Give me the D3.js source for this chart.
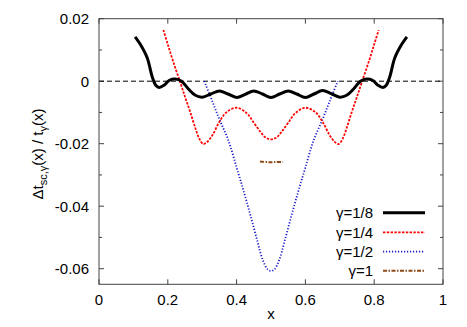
<!DOCTYPE html>
<html>
<head>
<meta charset="utf-8">
<script src="https://d3js.org/d3.v7.min.js"></script>
<style>
  body { margin: 0; background: #fff; }
  text { font-family: "Liberation Sans", Arial, sans-serif; }
</style>
</head>
<body>
<svg width="467" height="327"></svg>
<script>
// data
var xTicks = [0, 0.2, 0.4, 0.6, 0.8, 1];
var yTicks = [-0.06, -0.04, -0.02, 0, 0.02];
var yMinor = [-0.05, -0.03, -0.01, 0.01];

var g8x = [0.105,0.12,0.14,0.155,0.165,0.175,0.19,0.205,0.222,0.24,0.26,0.28,0.30,0.325,0.35,0.375,0.40,0.425,0.45,0.475,0.50,
           0.525,0.55,0.575,0.60,0.625,0.65,0.675,0.70,0.72,0.74,0.76,0.778,0.795,0.81,0.825,0.835,0.845,0.86,0.88,0.895];
var g8y = [0.0142,0.0118,0.0075,0.0013,-0.0013,-0.0020,-0.0012,0.0003,0.0007,0.0000,-0.0025,-0.0045,-0.0051,-0.0041,-0.0031,-0.0041,-0.0052,-0.0042,-0.0031,-0.0041,-0.0052,
           -0.0041,-0.0031,-0.0041,-0.0052,-0.0041,-0.0030,-0.0040,-0.0051,-0.0045,-0.0025,0.0000,0.0007,0.0003,-0.0012,-0.0020,-0.0013,0.0013,0.0075,0.0118,0.0142];

var g4x = [0.187,0.20,0.215,0.235,0.25,0.265,0.28,0.292,0.303,0.315,0.33,0.35,0.37,0.40,0.43,0.45,0.47,0.485,0.50,
           0.515,0.53,0.55,0.57,0.60,0.63,0.65,0.67,0.685,0.697,0.708,0.72,0.735,0.75,0.765,0.785,0.80,0.813];
var g4y = [0.0164,0.0118,0.0065,0.0000,-0.0050,-0.0098,-0.0150,-0.0185,-0.0201,-0.0194,-0.0172,-0.0130,-0.0100,-0.0085,-0.0103,-0.0133,-0.0163,-0.0181,-0.0186,
           -0.0181,-0.0163,-0.0133,-0.0103,-0.0085,-0.0100,-0.0130,-0.0172,-0.0194,-0.0201,-0.0185,-0.0150,-0.0098,-0.0050,0.0000,0.0065,0.0118,0.0164];

var g2x = [0.306,0.33,0.35,0.376,0.40,0.42,0.44,0.46,0.476,0.49,0.50,0.51,0.524,0.54,0.56,0.58,0.60,0.624,0.65,0.67,0.694];
var g2y = [0.000,-0.0066,-0.0122,-0.0189,-0.0276,-0.0350,-0.0428,-0.0510,-0.0572,-0.0602,-0.0607,
           -0.0602,-0.0572,-0.0510,-0.0428,-0.0350,-0.0276,-0.0189,-0.0122,-0.0066,0.000];

var g1x = [0.468,0.49,0.51,0.535];
var g1y = [-0.0257,-0.0259,-0.0259,-0.0258];

var labels = ["γ=1/8", "γ=1/4", "γ=1/2", "γ=1"];

var svg = d3.select("svg");
var x = d3.scaleLinear().domain([0, 1]).range([99, 443]);
var y = d3.scaleLinear().domain([-0.065, 0.02]).range([284.3, 18.7]);
var fmt = function(d){ return d3.format("")(d).replace("\u2212", "-"); };

// ticks (inward, mirrored)
var tk = svg.append("g").attr("stroke", "#444").attr("stroke-width", 1);
xTicks.forEach(function(v){
  tk.append("line").attr("x1", x(v)).attr("x2", x(v)).attr("y1", y.range()[0]).attr("y2", y.range()[0] - 5);
  tk.append("line").attr("x1", x(v)).attr("x2", x(v)).attr("y1", y.range()[1]).attr("y2", y.range()[1] + 5);
});
yTicks.forEach(function(v){
  tk.append("line").attr("x1", 99).attr("x2", 104).attr("y1", y(v)).attr("y2", y(v));
  tk.append("line").attr("x1", 443).attr("x2", 438).attr("y1", y(v)).attr("y2", y(v));
});
yMinor.forEach(function(v){
  tk.append("line").attr("x1", 99).attr("x2", 102).attr("y1", y(v)).attr("y2", y(v));
  tk.append("line").attr("x1", 443).attr("x2", 440).attr("y1", y(v)).attr("y2", y(v));
});

// tick labels
svg.append("g").selectAll("text").data(xTicks).enter().append("text")
  .attr("x", function(d){ return x(d); }).attr("y", 305)
  .attr("text-anchor", "middle").style("font-size", "15px").text(fmt);
svg.append("g").selectAll("text").data(yTicks).enter().append("text")
  .attr("x", 89).attr("y", function(d){ return y(d) + 5.5; })
  .attr("text-anchor", "end").style("font-size", "15px").text(fmt);

// axis titles
svg.append("text").attr("x", 271).attr("y", 319).attr("text-anchor", "middle")
  .style("font-size", "15px").text("x");
var yl = svg.append("text").attr("transform", "translate(43,154) rotate(-90)")
  .attr("text-anchor", "middle").style("font-size", "15px");
yl.append("tspan").text("Δt");
yl.append("tspan").attr("dy", 4).style("font-size", "11px").text("sc,γ");
yl.append("tspan").attr("dy", -4).text("(x)  /  t");
yl.append("tspan").attr("dy", 4).style("font-size", "11px").text("γ");
yl.append("tspan").attr("dy", -4).text("(x)");

// zero line
svg.append("line").attr("x1", x(0)).attr("x2", x(1)).attr("y1", y(0)).attr("y2", y(0))
  .attr("stroke", "#000").attr("stroke-width", 1).attr("stroke-dasharray", "5,3");

var styles = [
  {c: "#000000", w: 3, d: null},
  {c: "#ff0000", w: 1.8, d: "2.4,1.4"},
  {c: "#1a1acc", w: 1.8, d: "1.2,1.8"},
  {c: "#8b4a17", w: 2, d: "4,1.5,1.5,1.5"}
];
var series = [[g8x, g8y], [g4x, g4y], [g2x, g2y], [g1x, g1y]];
var line = d3.line().x(function(d){ return x(d[0]); }).y(function(d){ return y(d[1]); })
  .curve(d3.curveCatmullRom.alpha(0.5));

// legend
var ly = [212.7, 232.3, 251.7, 270.7];
labels.forEach(function(l, i){
  svg.append("text").attr("x", 373).attr("y", ly[i] + 5.5).attr("text-anchor", "end")
    .style("font-size", "15px").text(l);
  svg.append("line").attr("x1", 383).attr("x2", 425).attr("y1", ly[i]).attr("y2", ly[i])
    .attr("stroke", styles[i].c).attr("stroke-width", styles[i].w)
    .attr("stroke-dasharray", styles[i].d);
});

// curves, drawn back to front
[3, 2, 1, 0].forEach(function(i){
  var pts = d3.zip(series[i][0], series[i][1]);
  svg.append("path").attr("d", line(pts)).attr("fill", "none")
    .attr("stroke", styles[i].c).attr("stroke-width", styles[i].w)
    .attr("stroke-dasharray", styles[i].d).attr("stroke-linejoin", "round");
});

// frame
svg.append("rect").attr("x", 99).attr("y", 18.7).attr("width", 344).attr("height", 265.6)
  .attr("fill", "none").attr("stroke", "#444").attr("stroke-width", 1);
</script>
</body>
</html>
